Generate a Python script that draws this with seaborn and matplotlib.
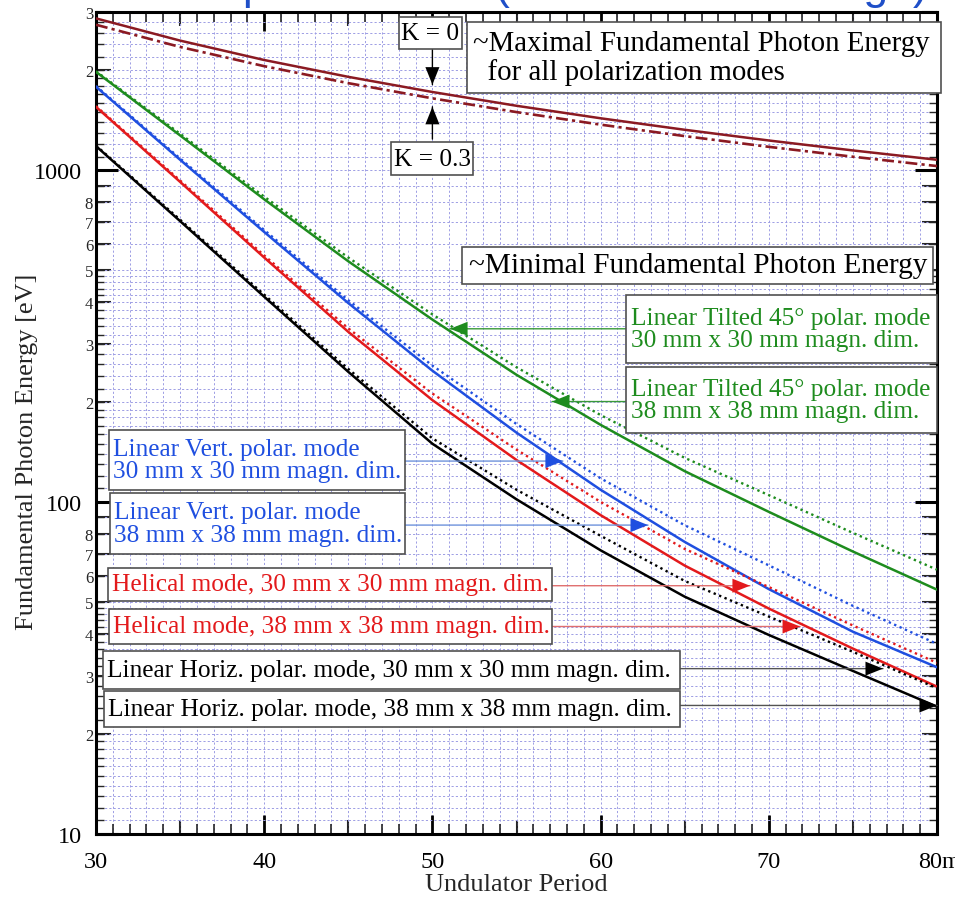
import numpy as np
import pandas as pd
import matplotlib
matplotlib.use("Agg")
import matplotlib.pyplot as plt
import seaborn as sns
from matplotlib.ticker import FixedLocator, NullLocator, NullFormatter
from matplotlib.patches import Rectangle
from matplotlib.transforms import ScaledTranslation

# ---------------- data ----------------
period = [30, 35, 40, 45, 50, 55, 60, 65, 70, 75, 80]  # undulator period [mm]

# maximal fundamental photon energy (all polarization modes)
emax_k0 = [2870, 2460, 2150, 1913, 1722, 1565, 1435, 1325, 1230, 1148, 1076]
emax_k03 = [2746, 2354, 2060, 1831, 1648, 1498, 1373, 1268, 1177, 1099, 1030]

# minimal fundamental photon energy
tilt_38 = [1980, 1274, 818, 532, 355, 242, 171, 124, 93.5, 71, 54.5]
tilt_30 = [1989, 1289, 833, 546, 368, 255, 183, 136, 105, 80.8, 62.6]
vert_38 = [1786, 1076, 652, 398, 249, 162, 109, 75.9, 54.7, 40.7, 31.8]
vert_30 = [1795, 1086, 661, 406, 258, 172, 118, 85.2, 64.5, 48.7, 37.4]
hel_38 = [1553, 923, 546, 326, 203, 134, 91.4, 64.4, 47.8, 36.2, 27.8]
hel_30 = [1561, 932, 554, 334, 212.5, 144, 100.2, 72.3, 55.5, 42.5, 32.8]
hor_38 = [1183, 703, 416, 247, 150, 102, 71.6, 51.9, 39.8, 31.0, 24.2]
hor_30 = [1188, 710, 422, 252, 155.7, 109, 79.2, 57.9, 45.2, 35.4, 27.5]

x_tick_values = [30, 40, 50, 60, 70, 80]
x_tick_labels = ["30", "40", "50", "60", "70", "80mm"]
y_major_values = [10, 100, 1000]
y_major_labels = ["10", "100", "1000"]

GREEN = "#1e8c1e"
BLUE = "#1f4fe0"
RED = "#e31a1c"
BLACK = "#000000"
DARKRED = "#8b1a22"

DOT = (0, (1.0, 1.5))
DASHDOT = (0, (4.5, 1.6, 1.2, 1.6))

series = [
    ("K = 0", emax_k0, DARKRED, "-", 1.8),
    ("K = 0.3", emax_k03, DARKRED, DASHDOT, 1.9),
    ("tilt 30", tilt_30, GREEN, DOT, 1.7),
    ("tilt 38", tilt_38, GREEN, "-", 1.8),
    ("vert 30", vert_30, BLUE, DOT, 1.7),
    ("vert 38", vert_38, BLUE, "-", 1.8),
    ("hel 30", hel_30, RED, DOT, 1.7),
    ("hel 38", hel_38, RED, "-", 1.8),
    ("hor 30", hor_30, BLACK, DOT, 1.7),
    ("hor 38", hor_38, BLACK, "-", 1.8),
]

df = pd.concat(
    [pd.DataFrame({"period": period, "energy": vals, "series": name})
     for name, vals, *_ in series],
    ignore_index=True,
)

# ---------------- figure ----------------
sns.set_theme(style="white")
plt.rcParams["font.family"] = ["Liberation Serif", "DejaVu Serif"]

W, H = 955, 904
fig = plt.figure(figsize=(W / 100, H / 100), dpi=100)
ax = fig.add_axes([96 / W, 1 - 835 / H, (937 - 96) / W, (835 - 13) / H])
ax.set_yscale("log")

for name, vals, color, ls, lw in series:
    sns.lineplot(data=df[df["series"] == name], x="period", y="energy",
                 color=color, linestyle=ls, linewidth=lw, ax=ax,
                 legend=False, estimator=None, sort=False, zorder=5)

ax.set_xlim(30, 80)
ax.set_ylim(10, 3000)
ax.set_xlabel("")
ax.set_ylabel("")

# ---- x ticks ----
ax.xaxis.set_major_locator(FixedLocator(x_tick_values))
ax.set_xticklabels(x_tick_labels)
ax.xaxis.set_minor_locator(FixedLocator(np.arange(30, 81, 1)))
ax.tick_params(axis="x", which="major", direction="in", length=14, width=2,
               top=True, bottom=True, pad=12, labelsize=17.5, colors="black")
ax.tick_params(axis="x", which="minor", direction="in", length=7, width=1.2,
               top=True, bottom=True)
last = ax.get_xticklabels()[-1]
last.set_horizontalalignment("left")
last.set_transform(last.get_transform()
                   + ScaledTranslation(-19 / 100, 0, fig.dpi_scale_trans))

for loc in ("bottom", "top"):
    sx = ax.secondary_xaxis(loc)
    sx.set_xticks([35, 45, 55, 65, 75])
    sx.xaxis.set_major_formatter(NullFormatter())
    sx.xaxis.set_minor_locator(NullLocator())
    sx.tick_params(direction="in", length=10, width=1.5)
    for sp in sx.spines.values():
        sp.set_visible(False)

# ---- y ticks ----
labelled_minor = [m * d for d in (10, 100, 1000) for m in range(2, 10) if m * d <= 3000]
labelled_text = [("" if m == 9 else str(m)) for d in (10, 100, 1000)
                 for m in range(2, 10) if m * d <= 3000]
fine = []
for d in (10, 100, 1000):
    fine += [round(v * d, 6) for v in np.arange(1.1, 2.0, 0.1)]
    fine += [round(v * d, 6) for v in np.arange(2.2, 5.0, 0.2)]
    fine += [m * d for m in range(5, 10)]
fine = sorted(set(v for v in fine + labelled_minor if 10 < v <= 3000))

ax.yaxis.set_major_locator(FixedLocator(y_major_values))
ax.set_yticklabels(y_major_labels)
ax.yaxis.set_minor_locator(FixedLocator(fine))
ax.yaxis.set_minor_formatter(NullFormatter())
ax.tick_params(axis="y", which="major", direction="in", length=16, width=2.2,
               left=True, right=True, pad=10, labelsize=17.5, colors="black")
ax.tick_params(axis="y", which="minor", direction="in", length=6, width=1.0,
               left=True, right=True)

for loc in ("left", "right"):
    sy = ax.secondary_yaxis(loc)
    sy.yaxis.set_major_locator(FixedLocator(labelled_minor))
    sy.yaxis.set_minor_locator(NullLocator())
    if loc == "left":
        sy.set_yticks(labelled_minor, labels=labelled_text)
    else:
        sy.yaxis.set_major_formatter(NullFormatter())
    sy.tick_params(direction="in", length=11, width=1.5, pad=2, labelsize=12)
    for sp in sy.spines.values():
        sp.set_visible(False)

ax.grid(which="both", axis="both", color="#9d9de4", linestyle=(0, (2.2, 2.2)),
        linewidth=0.7, zorder=0)
ax.set_axisbelow(True)
for sp in ax.spines.values():
    sp.set_linewidth(2.2)
    sp.set_color("black")

# ---- axis titles ----
fig.text(27 / W, 1 - 452 / H, "Fundamental Photon Energy [eV]", rotation=90,
         ha="center", va="center", fontsize=19)
fig.text(516 / W, 1 - 885 / H, "Undulator Period", ha="center", va="center",
         fontsize=19)

# header line running off the top edge (only its descenders reach the canvas)
fig.text(8 / W, 1 + 1 / H, "Undulator Spectral Data (Fundamental Range)",
         family=["Liberation Sans", "DejaVu Sans"], fontsize=32, color="#1f4fc8",
         ha="left", va="baseline")


# ---- annotation boxes ----
def label_box(x0, y0, x1, y1, text, color, size, pad=6, ha="left"):
    fig.add_artist(Rectangle((x0 / W, 1 - y1 / H), (x1 - x0) / W, (y1 - y0) / H,
                             transform=fig.transFigure, facecolor="white",
                             edgecolor="#505050", linewidth=1.2, zorder=20))
    if ha == "left":
        tx = (x0 + pad) / W
    else:
        tx = (x0 + x1) / 2 / W
    fig.text(tx, 1 - (y0 + y1) / 2 / H, text, color=color, fontsize=size,
             ha=ha, va="center", linespacing=1.05, zorder=21)


label_box(399, 18, 462, 50, "K = 0", "black", 18.3, ha="center")
label_box(391, 143, 473, 176, "K = 0.3", "black", 18.3, ha="center")
label_box(467, 23, 941, 94,
          "~Maximal Fundamental Photon Energy\n  for all polarization modes",
          "black", 20.8, pad=6)
label_box(462, 248, 933, 285, "~Minimal Fundamental Photon Energy", "black", 21.1, pad=7)
label_box(626, 296, 937, 364, "Linear Tilted 45° polar. mode\n30 mm x 30 mm magn. dim.",
          GREEN, 18.3, pad=5)
label_box(626, 368, 937, 434, "Linear Tilted 45° polar. mode\n38 mm x 38 mm magn. dim.",
          GREEN, 18.3, pad=5)
label_box(109, 431, 405, 491, "Linear Vert. polar. mode\n30 mm x 30 mm magn. dim.",
          BLUE, 18.3, pad=4)
label_box(110, 494, 405, 555, "Linear Vert. polar. mode\n38 mm x 38 mm magn. dim.",
          BLUE, 18.3, pad=4)
label_box(108, 569, 552, 602, "Helical mode, 30 mm x 30 mm magn. dim.", RED, 18.3, pad=4)
label_box(109, 610, 552, 645, "Helical mode, 38 mm x 38 mm magn. dim.", RED, 18.3, pad=4)
label_box(103, 652, 680, 690, "Linear Horiz. polar. mode, 30 mm x 30 mm magn. dim.",
          BLACK, 18.3, pad=4)
label_box(104, 692, 680, 728, "Linear Horiz. polar. mode, 38 mm x 38 mm magn. dim.",
          BLACK, 18.3, pad=4)

# ---- pointer arrows (tail -> tip, data coordinates) ----
arrows = [
    ((50.0, 2333), (50.0, 1812), "black", "black"),
    ((50.0, 1242), (50.0, 1554), "black", "black"),
    ((61.51, 333), (51.05, 333), "#3a9a3a", GREEN),
    ((61.51, 201), (57.11, 201), "#3a9a3a", GREEN),
    ((48.37, 133), (57.76, 133), "#7094dc", BLUE),
    ((48.37, 85.3), (62.82, 85.3), "#7094dc", BLUE),
    ((57.11, 56.0), (68.88, 56.0), "#e07070", RED),
    ((57.11, 42.2), (71.86, 42.2), "#e07070", RED),
    ((64.72, 31.5), (76.79, 31.5), "#555555", BLACK),
    ((64.72, 24.4), (80.0, 24.4), "#555555", BLACK),
]
for tail, tip, lc, hc in arrows:
    ax.annotate("", xy=tip, xytext=tail, annotation_clip=False, zorder=15,
                arrowprops=dict(arrowstyle="-", color=lc, lw=1.0,
                                shrinkA=0, shrinkB=0))
    ax.annotate("", xy=tip, xytext=tail, annotation_clip=False, zorder=16,
                arrowprops=dict(arrowstyle="-|>,head_length=0.7,head_width=0.28",
                                color=hc, lw=0.01, mutation_scale=18,
                                shrinkA=0, shrinkB=0))

fig.savefig("out.png", dpi=100)
